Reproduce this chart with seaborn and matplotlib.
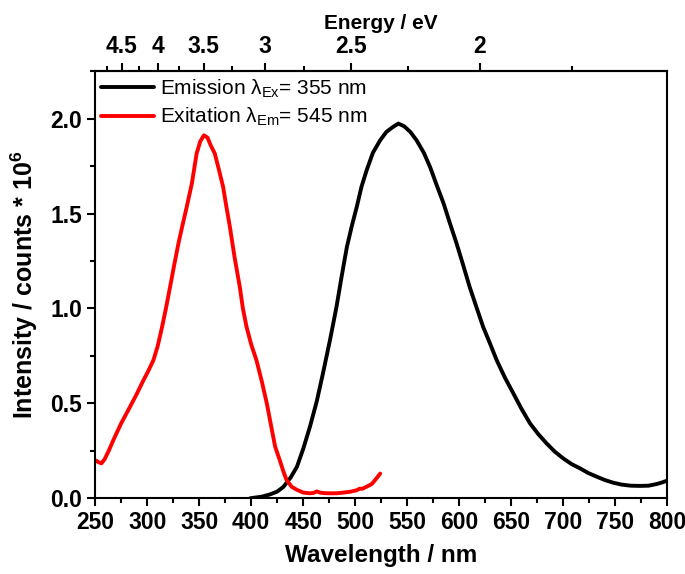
import numpy as np
import pandas as pd
import matplotlib
matplotlib.use('Agg')
import matplotlib.pyplot as plt
import seaborn as sns
from matplotlib.ticker import MultipleLocator, FixedLocator

# emission spectrum (lambda_ex = 355 nm), intensity in 1e6 counts
em_wl = [399, 410, 418, 425, 431, 438, 444, 450, 456.5, 463, 469, 476, 482, 487, 492, 497,
         501.5, 506, 511, 517, 524, 530, 536, 541.5, 547, 553, 559, 566, 572, 578, 585, 591,
         597.5, 604, 610, 617, 623, 630, 636, 644, 652, 660, 668, 676, 684, 692, 700, 708,
         716, 724, 732, 740, 748, 756, 765, 774, 782, 790, 795, 800]
em_int = [0.0, 0.008, 0.02, 0.035, 0.06, 0.11, 0.166, 0.26, 0.377, 0.51, 0.658, 0.84, 1.008,
          1.17, 1.324, 1.44, 1.535, 1.64, 1.728, 1.82, 1.886, 1.93, 1.955, 1.974, 1.96, 1.93,
          1.886, 1.82, 1.745, 1.655, 1.553, 1.45, 1.342, 1.225, 1.114, 1.0, 0.903, 0.81,
          0.728, 0.635, 0.553, 0.47, 0.395, 0.338, 0.289, 0.245, 0.21, 0.18, 0.158, 0.133,
          0.114, 0.096, 0.082, 0.072, 0.066, 0.065, 0.066, 0.075, 0.083, 0.093]

# excitation spectrum (lambda_em = 545 nm)
ex_wl = [251, 253, 256, 259, 263, 267.5, 275, 283.5, 290, 296.5, 301, 306, 310, 314, 318,
         322, 326, 330, 334, 338, 343, 347.5, 351, 354.5, 358, 361, 365, 369, 373, 376,
         379.5, 384, 389, 392, 395.5, 400, 405, 410, 415, 419, 423, 427.5, 431, 434, 439,
         444, 450, 456.5, 460, 463, 466, 470, 476, 482, 489, 495, 501.5, 504, 507, 511,
         516, 520.5, 524]
ex_int = [0.198, 0.19, 0.184, 0.205, 0.25, 0.307, 0.395, 0.482, 0.55, 0.623, 0.67, 0.728,
          0.8, 0.895, 1.0, 1.114, 1.23, 1.342, 1.44, 1.535, 1.66, 1.816, 1.88, 1.912, 1.9,
          1.86, 1.816, 1.73, 1.64, 1.54, 1.43, 1.27, 1.114, 1.0, 0.903, 0.81, 0.728, 0.62,
          0.5, 0.385, 0.272, 0.2, 0.14, 0.096, 0.06, 0.044, 0.03, 0.026, 0.028, 0.036,
          0.03, 0.027, 0.026, 0.026, 0.03, 0.034, 0.042, 0.05, 0.05, 0.061, 0.075, 0.105,
          0.13]

# energy ticks on the top axis
e_major = [4.5, 4, 3.5, 3, 2.5, 2]
e_minor = [4.75, 4.25, 3.75, 3.25, 2.75, 2.25, 1.75]

sns.set_style('ticks', rc={'axes.edgecolor': 'black', 'xtick.color': 'black',
                           'ytick.color': 'black', 'text.color': 'black',
                           'axes.labelcolor': 'black'})
plt.rcParams['font.family'] = ['Liberation Sans', 'DejaVu Sans']
plt.rcParams['mathtext.fontset'] = 'custom'
plt.rcParams['mathtext.rm'] = 'Liberation Sans'
plt.rcParams['mathtext.it'] = 'Liberation Sans'
plt.rcParams['mathtext.bf'] = 'Liberation Sans:bold'

em_df = pd.DataFrame({'wl': em_wl, 'I': em_int})
ex_df = pd.DataFrame({'wl': ex_wl, 'I': ex_int})

fig = plt.figure(figsize=(6.85, 5.74), dpi=100)
ax = fig.add_axes([0.139, 0.132, 0.835, 0.744])

sns.lineplot(data=em_df, x='wl', y='I', ax=ax, color='black', lw=2.8,
             label=r'Emission $\mathregular{\lambda_{Ex}}$= 355 nm')
sns.lineplot(data=ex_df, x='wl', y='I', ax=ax, color='#ff0000', lw=2.8,
             label=r'Exitation $\mathregular{\lambda_{Em}}$= 545 nm')

ax.set_xlim(250, 800)
ax.set_ylim(0, 2.25)
ax.xaxis.set_major_locator(MultipleLocator(50))
ax.xaxis.set_minor_locator(MultipleLocator(25))
ax.yaxis.set_major_locator(MultipleLocator(0.5))
ax.yaxis.set_minor_locator(MultipleLocator(0.25))
ax.yaxis.set_major_formatter(matplotlib.ticker.FormatStrFormatter('%.1f'))
ax.tick_params(which='major', direction='out', length=6, width=1.5, labelsize=16.5,
               colors='black')
ax.tick_params(which='minor', direction='out', length=3.5, width=1.5, colors='black')
for lbl in ax.get_xticklabels() + ax.get_yticklabels():
    lbl.set_fontweight('bold')
for s in ax.spines.values():
    s.set_linewidth(1.5)
    s.set_color('black')

ax.set_xlabel('Wavelength / nm', fontsize=17.5, fontweight='bold', labelpad=7)
ax.set_ylabel(r'Intensity / counts * 10$^\mathbf{6}$', fontsize=18, fontweight='bold',
              labelpad=7)

top = ax.secondary_xaxis('top', functions=(lambda x: 1240.0 / x, lambda e: 1240.0 / e))
top.xaxis.set_major_locator(FixedLocator(e_major))
top.xaxis.set_minor_locator(FixedLocator(e_minor))
top.xaxis.set_major_formatter(matplotlib.ticker.FuncFormatter(lambda v, p: f'{v:g}'))
top.tick_params(which='major', direction='out', length=6, width=1.5, labelsize=16.5,
                colors='black')
top.tick_params(which='minor', direction='out', length=3.5, width=1.5, colors='black')
top.spines['top'].set_linewidth(1.5)
for lbl in top.get_xticklabels():
    lbl.set_fontweight('bold')
top.set_xlabel('Energy / eV', fontsize=15, fontweight='bold', labelpad=4)

leg = ax.legend(loc='upper left', frameon=False, fontsize=15, handlelength=2.5,
                handletextpad=0.3, borderaxespad=0.1, labelspacing=0.3,
                borderpad=0.2)

fig.savefig('out.png', dpi=100)
